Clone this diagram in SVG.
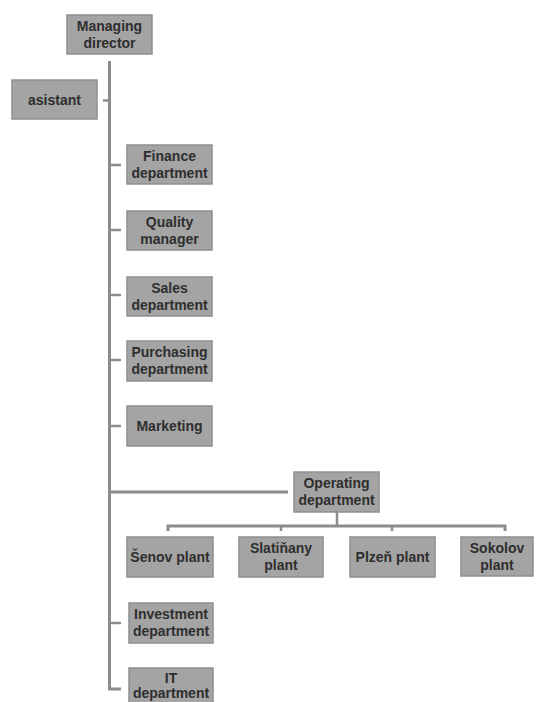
<svg xmlns="http://www.w3.org/2000/svg" width="537" height="702" viewBox="0 0 537 702">
<style>
.box{fill:#a4a4a4;stroke:#8e8e8e;stroke-width:1.5}
.t{font-family:"Liberation Sans",Arial,sans-serif;font-weight:bold;font-size:14px;fill:#2e2e2e;text-anchor:middle}
.c{fill:none;stroke:#8c8c8c;stroke-width:3}
.s{fill:none;stroke:#8c8c8c;stroke-width:2.5}
</style>
<rect width="537" height="702" fill="#ffffff"/>
<g id="connectors">
<path class="c" d="M109.5,61 V689 H121"/>
<path class="s" d="M103,100.5 H109.5"/>
<path class="s" d="M109.5,165 H121"/>
<path class="s" d="M109.5,230 H121"/>
<path class="s" d="M109.5,295 H121"/>
<path class="s" d="M109.5,360 H121"/>
<path class="s" d="M109.5,426 H121"/>
<path class="c" d="M109.5,492 H288"/>
<path class="s" d="M337,512 V526"/>
<path class="c" d="M168,531 V526 H505 V531"/>
<path class="s" d="M281,526 V531"/>
<path class="s" d="M392,526 V531"/>
<path class="s" d="M109.5,623 H121"/>
</g>
<g id="managing-director"><rect class="box" x="67" y="15" width="85" height="39"/><text class="t" x="109.5" y="31">Managing</text><text class="t" x="109.5" y="48">director</text></g>
<g id="asistant"><rect class="box" x="12" y="80" width="85" height="39"/><text class="t" x="54.5" y="105">asistant</text></g>
<g id="finance"><rect class="box" x="127" y="145" width="85" height="39"/><text class="t" x="169.5" y="161">Finance</text><text class="t" x="169.5" y="178">department</text></g>
<g id="quality"><rect class="box" x="127" y="211" width="85" height="39"/><text class="t" x="169.5" y="227">Quality</text><text class="t" x="169.5" y="244">manager</text></g>
<g id="sales"><rect class="box" x="127" y="277" width="85" height="39"/><text class="t" x="169.5" y="293">Sales</text><text class="t" x="169.5" y="310">department</text></g>
<g id="purchasing"><rect class="box" x="127" y="341" width="85" height="40"/><text class="t" x="169.5" y="357">Purchasing</text><text class="t" x="169.5" y="374">department</text></g>
<g id="marketing"><rect class="box" x="127" y="406" width="85" height="40"/><text class="t" x="169.5" y="431">Marketing</text></g>
<g id="operating"><rect class="box" x="294" y="472" width="85" height="40"/><text class="t" x="336.5" y="488">Operating</text><text class="t" x="336.5" y="505">department</text></g>
<g id="senov"><rect class="box" x="127" y="537" width="86" height="40"/><text class="t" x="170" y="562">Šenov plant</text></g>
<g id="slatinany"><rect class="box" x="239" y="537" width="84" height="40"/><text class="t" x="281" y="553">Slatiňany</text><text class="t" x="281" y="570">plant</text></g>
<g id="plzen"><rect class="box" x="350" y="537" width="85" height="40"/><text class="t" x="392.5" y="562">Plzeň plant</text></g>
<g id="sokolov"><rect class="box" x="461" y="537" width="72" height="39"/><text class="t" x="497" y="553">Sokolov</text><text class="t" x="497" y="570">plant</text></g>
<g id="investment"><rect class="box" x="129" y="603" width="84" height="40"/><text class="t" x="171" y="619">Investment</text><text class="t" x="171" y="636">department</text></g>
<g id="it"><rect class="box" x="129" y="668" width="84" height="40"/><text class="t" x="171" y="683">IT</text><text class="t" x="171" y="698">department</text></g>
</svg>
